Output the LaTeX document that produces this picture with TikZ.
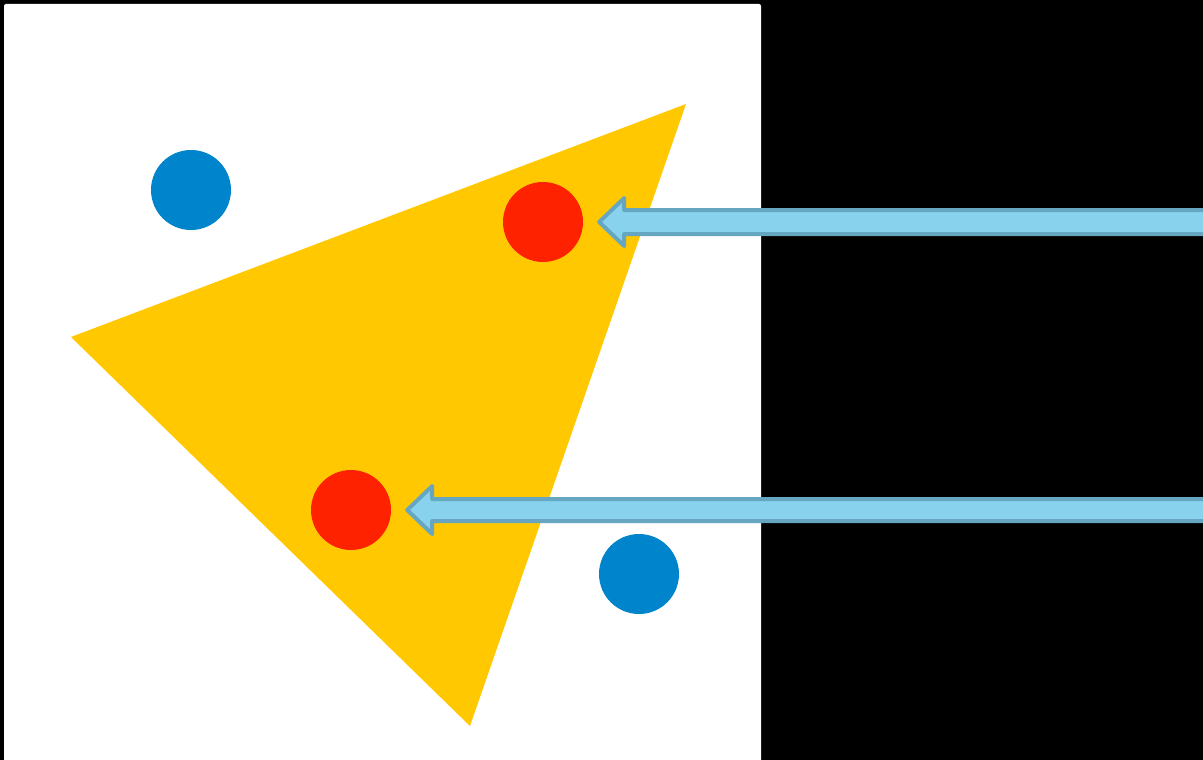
\documentclass[tikz,border=0pt]{standalone}
\definecolor{tri}{HTML}{FFC800}
\definecolor{redc}{HTML}{FF2200}
\definecolor{bluec}{HTML}{0085CC}
\definecolor{arrfill}{HTML}{88D2EE}
\definecolor{arrline}{HTML}{66A6C0}
\tikzset{
  dot/.style={circle, minimum size=80pt, inner sep=0pt, draw=none},
  bigarrow/.style={fill=arrfill, draw=arrline, line width=4pt, line join=round},
}
\begin{document}
\begin{tikzpicture}[x=1pt,y=-1pt]
\useasboundingbox (0,0) rectangle (1203,760);
\fill[black] (0,0) rectangle (1203,760);
\fill[white, rounded corners=2pt] (4,4) rectangle (761,770);
\fill[tri] (686,104) -- (71,337) -- (470,726) -- cycle;
\node[dot, fill=bluec] (b1) at (191,190) {};
\node[dot, fill=bluec] (b2) at (639,574) {};
\node[dot, fill=redc] (r1) at (543,222) {};
\node[dot, fill=redc] (r2) at (351,510) {};
\coordinate (e1) at (1215,222);
\coordinate (e2) at (1215,510);
\draw[bigarrow] ([xshift=16pt]r1.east) -- ++(25,-24) -- ++(0,12) -- (e1 |- 0,210) -- (e1 |- 0,234) -- ([xshift=41pt]r1.east |- 0,234) -- ++(0,12) -- cycle;
\draw[bigarrow] ([xshift=16pt]r2.east) -- ++(25,-24) -- ++(0,13) -- (e2 |- 0,499) -- (e2 |- 0,521) -- ([xshift=41pt]r2.east |- 0,521) -- ++(0,13) -- cycle;
\end{tikzpicture}
\end{document}
